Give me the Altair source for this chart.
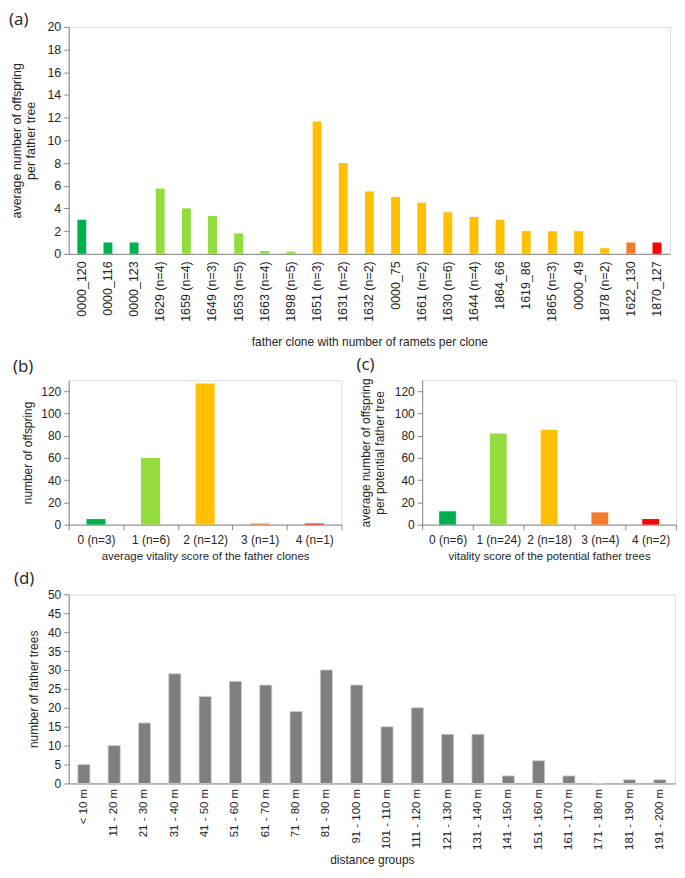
import altair as alt
import pandas as pd

# ---------------- data ----------------
clone_labels = ["0000_120", "0000_116", "0000_123", "1629 (n=4)", "1659 (n=4)", "1649 (n=3)",
                "1653 (n=5)", "1663 (n=4)", "1898 (n=5)", "1651 (n=3)", "1631 (n=2)", "1632 (n=2)",
                "0000_75", "1661 (n=2)", "1630 (n=6)", "1644 (n=4)", "1864_66", "1619_86",
                "1865 (n=3)", "0000_49", "1878 (n=2)", "1622_130", "1870_127"]
clone_offspring = [3, 1, 1, 5.75, 4, 3.33, 1.8, 0.25, 0.2, 11.67, 8, 5.5, 5, 4.5, 3.67, 3.25,
                   3, 2, 2, 2, 0.5, 1, 1]
clone_scores = [0, 0, 0, 1, 1, 1, 1, 1, 1, 2, 2, 2, 2, 2, 2, 2, 2, 2, 2, 2, 2, 3, 4]

scores = [0, 1, 2, 3, 4]
score_colors = ["#00B050", "#92DC3E", "#FFC000", "#F47B2C", "#FF0000"]

labels_b = ["0 (n=3)", "1 (n=6)", "2 (n=12)", "3 (n=1)", "4 (n=1)"]
offspring_b = [5, 60, 127, 1, 1]

labels_c = ["0 (n=6)", "1 (n=24)", "2 (n=18)", "3 (n=4)", "4 (n=2)"]
offspring_c = [12, 82, 85.5, 11, 5]

distance_labels = ["< 10 m", "11 - 20 m", "21 - 30 m", "31 - 40 m", "41 - 50 m", "51 - 60 m",
                   "61 - 70 m", "71 - 80 m", "81 - 90 m", "91 - 100 m", "101 - 110 m",
                   "111 - 120 m", "121 - 130 m", "131 - 140 m", "141 - 150 m", "151 - 160 m",
                   "161 - 170 m", "171 - 180 m", "181 - 190 m", "191 - 200 m"]
father_counts = [5, 10, 16, 29, 23, 27, 26, 19, 30, 26, 15, 20, 13, 13, 2, 6, 2, 0, 1, 1]

# ---------------- style helpers ----------------
FONT = "Liberation Sans"
TFONT = "Open Sans"
GRAY = "#868686"
TXT = "#262626"

color_enc = alt.Color("score:O", scale=alt.Scale(domain=scores, range=score_colors), legend=None)


def y_axis(title, values, size, pad):
    return alt.Axis(title=title, values=values, grid=False, domainColor=GRAY, tickColor=GRAY,
                    tickSize=5, labelFont=FONT, labelFontSize=size, labelColor=TXT,
                    labelPadding=3, titleFont=FONT, titleFontSize=size, titleFontWeight="normal",
                    titleColor=TXT, titlePadding=pad)


def panel_title(text, dx, offset):
    return alt.TitleParams(text, anchor="start", frame="group", dx=dx, offset=offset,
                           fontSize=17, fontWeight="normal", font=TFONT, color="#222222")


# ---------------- (a) ----------------
df_a = pd.DataFrame({"clone": clone_labels, "value": clone_offspring, "score": clone_scores})
chart_a = alt.Chart(df_a).mark_bar(width=alt.RelativeBandSize(0.34)).encode(
    x=alt.X("clone:N", sort=clone_labels,
            scale=alt.Scale(paddingInner=0, paddingOuter=0),
            axis=alt.Axis(title="father clone with number of ramets per clone", labelAngle=-90,
                          ticks=False, domainColor=GRAY, labelFont=FONT, labelFontSize=12.5,
                          labelColor=TXT, labelPadding=7, titleFont=FONT, titleFontSize=12,
                          titleFontWeight="normal", titleColor=TXT, titlePadding=15)),
    y=alt.Y("value:Q", scale=alt.Scale(domain=[0, 20], nice=False),
            axis=y_axis(["average number of offspring", "per father tree"],
                        list(range(0, 21, 2)), 12.5, 9)),
    color=color_enc,
).properties(width=604, height=228, title=panel_title("(a)", -60, -8))

# ---------------- (b) ----------------
df_b = pd.DataFrame({"cat": labels_b, "value": offspring_b, "score": scores})
x_bc = dict(title=None, tickBand="extent", tickColor=GRAY, tickSize=5, domainColor=GRAY,
            labelAngle=0, labelFont=FONT, labelFontSize=12, labelColor=TXT, labelPadding=5,
            titleFont=FONT, titleFontSize=11.5, titleFontWeight="normal", titleColor=TXT,
            titlePadding=5)
chart_b = alt.Chart(df_b).mark_bar(width=alt.RelativeBandSize(0.35)).encode(
    x=alt.X("cat:N", sort=labels_b, scale=alt.Scale(paddingInner=0, paddingOuter=0),
            axis=alt.Axis(**{**x_bc, "title": "average vitality score of the father clones"})),
    y=alt.Y("value:Q", scale=alt.Scale(domain=[0, 130], nice=False),
            axis=y_axis("number of offspring", list(range(0, 121, 20)), 12, 6)),
    color=color_enc,
).properties(width=274, height=145, title=panel_title("(b)", -56, 4))

# ---------------- (c) ----------------
df_c = pd.DataFrame({"cat": labels_c, "value": offspring_c, "score": scores})
chart_c = alt.Chart(df_c).mark_bar(width=alt.RelativeBandSize(0.33)).encode(
    x=alt.X("cat:N", sort=labels_c, scale=alt.Scale(paddingInner=0, paddingOuter=0),
            axis=alt.Axis(**{**x_bc, "title": "vitality score of the potential father trees"})),
    y=alt.Y("value:Q", scale=alt.Scale(domain=[0, 130], nice=False),
            axis=y_axis(["average number of offspring", "per potential  father tree"],
                        list(range(0, 121, 20)), 12, 8)),
    color=color_enc,
).properties(width=255, height=145, title=panel_title("(c)", -66, 4))

# ---------------- (d) ----------------
df_d = pd.DataFrame({"dist": distance_labels, "value": father_counts})
chart_d = alt.Chart(df_d).mark_bar(width=alt.RelativeBandSize(0.4), color="#7F7F7F",
                                   stroke="#D0D0D0", strokeWidth=0.8).encode(
    x=alt.X("dist:N", sort=distance_labels, scale=alt.Scale(paddingInner=0, paddingOuter=0),
            axis=alt.Axis(title="distance groups", labelAngle=-90, ticks=False,
                          domainColor=GRAY, labelFont=FONT, labelFontSize=11.5, labelColor=TXT,
                          labelPadding=5, titleFont=FONT, titleFontSize=12,
                          titleFontWeight="normal", titleColor=TXT, titlePadding=5)),
    y=alt.Y("value:Q", scale=alt.Scale(domain=[0, 50], nice=False),
            axis=y_axis("number of  father trees", list(range(0, 51, 5)), 12, 7)),
).properties(width=609, height=190, title=panel_title("(d)", -55, 0))

row_bc = alt.hconcat(chart_b, chart_c, spacing=13)

chart = alt.concat(chart_a, row_bc, chart_d, columns=1, spacing=7).properties(
    align="none", padding=0
).configure_view(stroke=GRAY, strokeWidth=1).configure(background="white")

chart.save("out.html", embed_options={"renderer": "svg", "actions": False})
